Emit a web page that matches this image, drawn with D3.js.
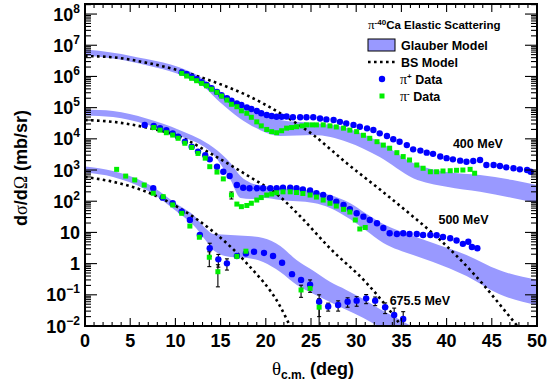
<!DOCTYPE html>
<html>
<head>
<meta charset="utf-8">
<script src="https://cdn.jsdelivr.net/npm/d3@7"></script>
<style>
body { margin: 0; background: #fff; }
text { font-family: "Liberation Sans", Arial, Helvetica, sans-serif; font-weight: bold; fill: #000; }
.sym { font-family: "Liberation Serif", "DejaVu Serif", serif; font-weight: normal; }
</style>
</head>
<body>
<svg id="chart" width="550" height="390"></svg>
<script>
// pi-40Ca elastic scattering (theta in deg, dsigma/dOmega in mb/sr)

// Glauber model bands: [theta, lower, upper]
var glauber400 = [[0,4.7e6,7.3e6],[3.1,3.75e6,5.8e6],[6.8,2.3e6,3.6e6],[10.5,1.15e6,1.93e6],[12.7,5.9e5,9.9e5],
  [14.9,1.51e5,3.16e5],[17.1,4.6e4,1.21e5],[19.4,1.9e4,6.7e4],[21.6,1.23e4,4.0e4],[25.3,1.32e4,3.2e4],
  [29,7.9e3,2.2e4],[32.6,2.6e3,7.9e3],[36.3,550,1680],[40,290,860],[43.7,200,690],[47.3,127,480],[50,88,330]];
var glauber500 = [[0,5.6e4,8.7e4],[3.1,5.0e4,7.8e4],[6.8,2.9e4,4.5e4],[10.5,1.23e4,1.9e4],[14.2,3.1e3,5.3e3],
  [16.1,480,1680],[17.2,127,640],[18.4,118,380],[19.9,127,310],[21.6,109,265],[25.3,88,210],[27.1,61,158],
  [29.3,27,88],[31.0,12,42],[33.0,4.6,18.6],[36.3,1.9,7.7],[38.5,1.13,4.6],[42.2,0.40,1.9],[45.8,0.106,0.62],[50,0.047,0.30]];
var glauber675 = [[0,830,1300],[3.1,600,930],[6.8,230,380],[10.5,39,70],[12.0,17,36],[13.4,5.3,12.9],[14.2,2.7,8.9],
  [16.1,1.63,8.3],[18.0,1.51,7.7],[19.7,1.13,6.6],[21.6,0.54,3.7],[23.4,0.21,1.31],[25.3,0.106,0.58],[27.1,0.059,0.26],
  [28.9,0.033,0.143],[30.8,0.018,0.073],[32.6,0.0093,0.035],[34.5,0.0045,0.018],[36.5,0.002,0.0085]];

// BS model curves: [theta, value]
var bs400 = [[0,4.5e6],[3.1,4.1e6],[6.8,2.75e6],[10.5,1.52e6],[14.2,6.8e5],[17.9,2.5e5],[21.6,6.6e4],[25.25,1.33e4],
  [28.9,1.7e3],[32.6,240],[36.3,32],[39.3,5.7],[42.95,0.49],[47.9,0.0095],[49,0.004]];
var bs500 = [[0,4.0e4],[3.1,3.5e4],[6.8,2.3e4],[10.5,1.17e4],[14.2,3.0e3],[17.9,690],[21.6,136],[23.8,33],
  [27.1,3.1],[31.2,0.23],[34.5,0.0156],[35.5,0.006]];
var bs675 = [[0,600],[3.1,420],[6.8,200],[10.5,59],[14.2,10.5],[17.9,1.02],[21.6,0.042],[22.7,0.01],[23.5,0.004]];

// data: [theta, value, error]
var piPlus400 = [[10.7,1.35e6],[11.25,1.17e6],[11.8,9.8e5],[12.35,8.1e5],[12.9,6.5e5],[13.45,5.3e5],[14.0,4.2e5],
  [14.6,3.2e5],[15.1,2.5e5],[15.7,2.0e5],[16.2,1.66e5],[16.8,1.37e5],[17.3,1.21e5],[17.9,1.02e5],[18.4,9.0e4],
  [19.0,7.8e4],[19.5,6.6e4],[20.1,5.8e4],[20.65,5.4e4],[21.2,5.1e4],[21.75,5.1e4],[22.3,5.2e4],[23.0,4.9e4],
  [23.8,4.9e4],[24.5,4.9e4],[25.25,4.9e4],[26.0,4.5e4],[26.7,4.2e4],[27.5,4.0e4],[28.2,3.5e4],[28.9,3.1e4],
  [29.7,2.8e4],[30.4,2.44e4],[31.2,2.17e4],[31.9,1.92e4],[32.6,1.5e4],[33.4,1.23e4],[34.1,9.7e3],[34.8,8.1e3],
  [35.6,6.3e3],[36.3,4.6e3],[37.1,4.2e3],[37.8,3.6e3],[38.5,3.3e3],[39.3,2.7e3],[40.0,2.4e3],[40.7,2.2e3],
  [41.5,2.0e3],[42.2,1.85e3],[42.95,1.95e3],[43.7,2.1e3],[44.4,1.45e3],[45.2,1.45e3],[45.9,1.35e3],[46.6,1.22e3],
  [47.4,1.14e3],[48.1,1.05e3],[48.9,1.0e3],[49.3,880]];
var piMinus400 = [[10.7,1.26e6],[11.25,1.03e6],[11.8,8.7e5],[12.35,7.3e5],[12.9,6.0e5],[13.45,5.0e5],[14.0,3.9e5],
  [14.6,3.1e5],[15.1,2.35e5],[15.7,1.75e5],[16.2,1.28e5],[16.8,1.07e5],[17.3,7.9e4],[17.9,6.6e4],[18.4,4.9e4],
  [19.0,3.5e4],[19.5,2.6e4],[20.1,2.0e4],[20.65,1.7e4],[21.2,1.57e4],[21.75,1.82e4],[22.3,2.2e4],[22.85,2.3e4],
  [23.4,2.45e4],[24.0,2.6e4],[24.5,2.8e4],[25.1,2.8e4],[25.6,2.8e4],[26.35,2.8e4],[27.1,2.6e4],[27.8,2.4e4],
  [28.6,2.2e4],[29.3,1.9e4],[30.05,1.7e4],[30.8,1.3e4],[31.5,1.04e4],[32.3,8.1e3],[33.0,6.3e3],[33.7,5.0e3],
  [34.5,3.6e3],[35.2,2.7e3],[35.9,2.1e3],[36.7,1.45e3],[37.4,1.14e3],[38.2,880],[38.9,880],[39.6,930],[40.4,950],
  [41.1,980],[41.8,1000],[42.6,1050],[43.1,790]];
var piPlus500 = [[6.6,2.8e4],[7.6,2.6e4],[8.3,2.2e4],[9.0,1.9e4],[9.7,1.5e4],[10.3,1.17e4],[11.05,8.1e3],[11.8,5.6e3],
  [12.5,3.9e3],[13.3,3.0e3],[13.8,2.2e3],[14.6,1.28e3],[15.3,880],[16.0,640],[16.8,330],[17.5,270],[18.2,260],
  [19.0,260],[19.7,260],[20.5,260],[21.2,260],[21.9,270],[22.7,270],[23.4,260],[24.1,240],[24.9,220],[25.6,180],
  [26.35,158],[27.1,127],[27.8,97],[28.6,76],[29.3,56],[30.05,41],[30.8,32],[31.5,25],[32.3,19.6],[33.0,13.9],
  [33.7,9.4],[34.5,8.9],[35.2,9.4],[35.9,8.9],[36.7,8.9],[37.4,8.3],[38.2,8.3],[38.9,8.1],[39.6,7.1],[40.4,6.5],
  [41.1,5.5],[41.8,4.3],[42.4,5.0],[42.8,3.4],[43.4,3.1]];
var piMinus500 = [[7.6,2.3e4],[8.3,1.9e4],[9.0,1.57e4],[9.7,1.32e4],[10.3,1.04e4],[11.05,7.2e3],[11.8,5.3e3],
  [12.5,3.4e3],[13.3,2.4e3],[13.8,1.28e3],[14.6,860],[15.3,520],[16.2,158,40],[16.8,81],[17.3,67],[17.9,73],
  [18.4,86],[19.0,109],[19.5,131],[20.1,158],[20.65,170],[21.2,187],[21.9,200],[22.7,200],[23.4,190],[24.1,177],
  [24.9,158],[25.6,136],[26.35,109],[27.1,86],[27.8,70],[28.6,55],[29.3,45],[29.9,25],[30.4,12.9],[31.0,14.4]];
var piPlus675 = [[7.55,260],[8.6,130],[9.7,86],[10.7,46],[11.6,25],[12.7,8.3],[13.8,3.1,1.4],[14.75,1.37,0.6],
  [15.7,1.02,0.4],[16.8,1.75],[17.8,2.1],[18.7,2.4],[19.8,2.2],[20.8,1.75],[21.8,1.07],[22.9,0.46],[23.9,0.30],
  [24.9,0.21,0.09],[25.9,0.060,0.04],[26.9,0.042,0.012],[28.0,0.047,0.017],[29.05,0.060,0.02],[30.05,0.065,0.022],
  [31.1,0.077,0.025],[32.1,0.065,0.02],[33.2,0.040,0.015],[34.2,0.0225,0.015],[35.2,0.0168,0.012]];
var piMinus675 = [[3.5,1050],[4.5,640],[5.5,480],[6.55,330],[7.55,180],[8.65,140],[9.7,76],[10.7,41],[11.6,16],
  [12.65,7.0],[13.75,1.6,0.8],[14.7,0.55,0.37],[16.8,1.7],[17.8,2.5],[23.9,0.143,0.06],[24.9,0.16],[25.9,0.040,0.035]];

var xMajor = d3.range(0, 51, 5);
var xMinor = d3.range(0, 51, 1);
var yDecades = d3.range(-2, 9);

var energyLabels = [
  {text: "400 MeV", theta: 40.7, value: 5.0e3},
  {text: "500 MeV", theta: 39.1, value: 18},
  {text: "675.5 MeV", theta: 33.7, value: 0.047}
];

var pLeft = 85, pRight = 537, pTop = 4, pBottom = 326;
var svg = d3.select("#chart");

var x = d3.scaleLinear().domain([0, 50]).range([pLeft, pRight]);
var y = d3.scaleLog().domain([1e-2, 2.1e8]).range([pBottom, pTop]);

svg.append("clipPath").attr("id", "plotclip").append("rect")
  .attr("x", pLeft).attr("y", pTop).attr("width", pRight - pLeft).attr("height", pBottom - pTop);

var plot = svg.append("g").attr("clip-path", "url(#plotclip)");

var band = d3.area()
  .x(function (d) { return x(d[0]); })
  .y0(function (d) { return y(d[1]); })
  .y1(function (d) { return y(d[2]); })
  .curve(d3.curveMonotoneX);

[glauber400, glauber500, glauber675].forEach(function (b) {
  plot.append("path").datum(b).attr("d", band).attr("fill", "#9999ff");
});

var curve = d3.line()
  .x(function (d) { return x(d[0]); })
  .y(function (d) { return y(d[1]); })
  .curve(d3.curveMonotoneX);

[bs400, bs500, bs675].forEach(function (b) {
  plot.append("path").datum(b).attr("d", curve)
    .attr("fill", "none").attr("stroke", "#000")
    .attr("stroke-width", 2.6).attr("stroke-dasharray", "2.6,3.4");
});

function errorBars(data) {
  var withErr = data.filter(function (d) { return d[2]; });
  var g = plot.append("g").attr("stroke", "#000").attr("stroke-width", 1.1);
  withErr.forEach(function (d) {
    var cx = x(d[0]);
    var lo = d[1] - d[2] > 0 ? y(d[1] - d[2]) : pBottom + 5;
    var hi = y(d[1] + d[2]);
    g.append("line").attr("x1", cx).attr("x2", cx).attr("y1", lo).attr("y2", hi);
    g.append("line").attr("x1", cx - 2).attr("x2", cx + 2).attr("y1", hi).attr("y2", hi);
    if (lo < pBottom) g.append("line").attr("x1", cx - 2).attr("x2", cx + 2).attr("y1", lo).attr("y2", lo);
  });
}

function circles(data) {
  plot.append("g").selectAll("circle").data(data).enter().append("circle")
    .attr("cx", function (d) { return x(d[0]); })
    .attr("cy", function (d) { return y(d[1]); })
    .attr("r", 3.2).attr("fill", "#0000ff");
}

function squares(data) {
  var s = 5;
  plot.append("g").selectAll("rect").data(data).enter().append("rect")
    .attr("x", function (d) { return x(d[0]) - s / 2; })
    .attr("y", function (d) { return y(d[1]) - s / 2; })
    .attr("width", s).attr("height", s).attr("fill", "#00ee00");
}

[piPlus400, piPlus500, piPlus675, piMinus400, piMinus500, piMinus675].forEach(errorBars);
circles(piPlus400); squares(piMinus400);
circles(piPlus500); squares(piMinus500);
circles(piPlus675); squares(piMinus675);

// energy labels
energyLabels.forEach(function (l) {
  svg.append("text").attr("x", x(l.theta)).attr("y", y(l.value))
    .attr("font-size", 12.5).text(l.text);
});

// frame and ticks
var axes = svg.append("g").attr("stroke", "#000").attr("stroke-width", 1.1);
xMinor.forEach(function (t) {
  var len = xMajor.indexOf(t) >= 0 ? 8 : 4;
  axes.append("line").attr("x1", x(t)).attr("x2", x(t)).attr("y1", pBottom).attr("y2", pBottom - len);
  axes.append("line").attr("x1", x(t)).attr("x2", x(t)).attr("y1", pTop).attr("y2", pTop + len);
});
yDecades.forEach(function (e) {
  for (var m = 1; m < 10; m++) {
    var v = m * Math.pow(10, e);
    if (v > y.domain()[1]) break;
    var len = m === 1 ? 12 : 6;
    axes.append("line").attr("x1", pLeft).attr("x2", pLeft + len).attr("y1", y(v)).attr("y2", y(v));
    axes.append("line").attr("x1", pRight).attr("x2", pRight - len).attr("y1", y(v)).attr("y2", y(v));
  }
});
svg.append("rect").attr("x", pLeft).attr("y", pTop).attr("width", pRight - pLeft).attr("height", pBottom - pTop)
  .attr("fill", "none").attr("stroke", "#000").attr("stroke-width", 2);

// tick labels
xMajor.forEach(function (t) {
  svg.append("text").attr("x", x(t)).attr("y", pBottom + 21).attr("text-anchor", "middle")
    .attr("font-size", 18).text(t);
});
yDecades.forEach(function (e) {
  var t = svg.append("text").attr("x", 80).attr("y", y(Math.pow(10, e)) + 6.5)
    .attr("text-anchor", "end").attr("font-size", 18);
  if (e === 0) t.text("1");
  else if (e === 1) t.text("10");
  else {
    t.append("tspan").text("10");
    t.append("tspan").attr("dy", -8).attr("font-size", 12).text(e < 0 ? "\u2212" + (-e) : e);
  }
});

// axis titles
var yt = svg.append("text").attr("transform", "translate(27,168) rotate(-90)")
  .attr("text-anchor", "middle").attr("font-size", 18);
yt.append("tspan").text("d");
yt.append("tspan").attr("class", "sym").text("\u03c3");
yt.append("tspan").text("/d");
yt.append("tspan").attr("class", "sym").text("\u03a9");
yt.append("tspan").text(" (mb/sr)");

var xt = svg.append("text").attr("x", 313).attr("y", 375).attr("text-anchor", "middle").attr("font-size", 18);
xt.append("tspan").attr("class", "sym").attr("font-size", 19).text("\u03b8");
xt.append("tspan").attr("dy", 4).attr("font-size", 12).text("c.m.");
xt.append("tspan").attr("dy", -4).text(" (deg)");

// legend
var lg = svg.append("g");
var title = lg.append("text").attr("x", 368).attr("y", 29).attr("font-size", 11.5);
title.append("tspan").attr("class", "sym").attr("font-size", 13).text("\u03c0");
title.append("tspan").attr("dy", -4).attr("font-size", 8).text("-40");
title.append("tspan").attr("dy", 4).text("Ca Elastic Scattering");

lg.append("rect").attr("x", 368).attr("y", 39).attr("width", 27).attr("height", 12)
  .attr("fill", "#9999ff").attr("stroke", "#000").attr("stroke-width", 1);
lg.append("text").attr("x", 401).attr("y", 50).attr("font-size", 12.5).text("Glauber Model");

lg.append("line").attr("x1", 368).attr("x2", 395).attr("y1", 62).attr("y2", 62)
  .attr("stroke", "#000").attr("stroke-width", 2.6).attr("stroke-dasharray", "2.6,3.4");
lg.append("text").attr("x", 401).attr("y", 66.5).attr("font-size", 12.5).text("BS Model");

lg.append("circle").attr("cx", 382).attr("cy", 79).attr("r", 3.2).attr("fill", "#0000ff");
var lp = lg.append("text").attr("x", 400).attr("y", 83.5).attr("font-size", 12.5);
lp.append("tspan").attr("class", "sym").attr("font-size", 14).text("\u03c0");
lp.append("tspan").attr("dy", -5).attr("font-size", 8).text("+");
lp.append("tspan").attr("dy", 5).text(" Data");

lg.append("rect").attr("x", 379.5).attr("y", 93.5).attr("width", 5).attr("height", 5).attr("fill", "#00ee00");
var lm = lg.append("text").attr("x", 400).attr("y", 100.5).attr("font-size", 12.5);
lm.append("tspan").attr("class", "sym").attr("font-size", 14).text("\u03c0");
lm.append("tspan").attr("dy", -5).attr("font-size", 8).text("-");
lm.append("tspan").attr("dy", 5).text(" Data");
</script>
</body>
</html>
